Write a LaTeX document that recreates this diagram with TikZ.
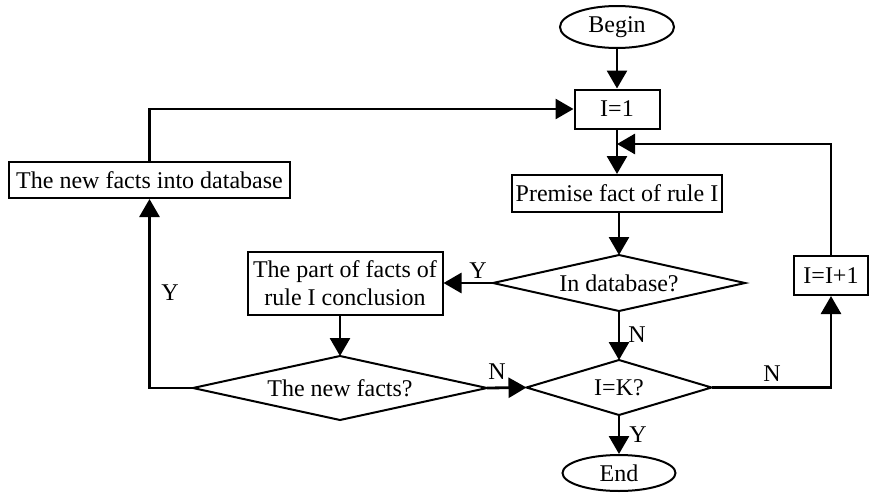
\documentclass[tikz,border=0pt]{standalone}
\usepackage{fontspec}
\setmainfont{Liberation Serif}
\usetikzlibrary{arrows.meta,shapes.geometric}
\begin{document}
\begin{tikzpicture}[x=0.5pt,y=-0.5pt,
  font=\fontsize{12}{14}\selectfont,
  line width=1pt,
  box/.style={draw,rectangle,inner sep=0pt,align=center},
  term/.style={draw,ellipse,inner sep=0pt},
  dia/.style={rectangle,inner sep=0pt},
  arr/.style={-{Triangle[length=9pt,width=10pt]},line width=1.4pt},
  lbl/.style={inner sep=0pt}]
\useasboundingbox (0,0) rectangle (869,493);
% nodes
\node[term,minimum width=57pt,minimum height=21pt] (begin) at (617,27) {Begin};
\node[box,minimum width=42.5pt,minimum height=19.5pt] (i1) at (617,109) {I=1};
\node[box,minimum width=105pt,minimum height=18.5pt] (premise) at (617,193.5) {Premise fact of rule I};
\node[dia,minimum width=125pt,minimum height=27pt] (indb) at (619,283) {In database?};
\node[box,minimum width=97.5pt,minimum height=31.5pt] (part) at (345,283.5) {The part of facts of\\rule I conclusion};
\node[dia,minimum width=146pt,minimum height=31pt] (newf) at (340,388) {The new facts?};
\node[dia,minimum width=91.5pt,minimum height=26.5pt] (ik) at (619,387.5) {I=K?};
\node[box,minimum width=37pt,minimum height=19.5pt] (inc) at (831,275.5) {I=I+1};
\node[box,minimum width=140.5pt,minimum height=18pt] (db) at (149.5,180) {The new facts into database};
\node[term,minimum width=56.5pt,minimum height=18pt] (end) at (619,473) {End};
% diamond outlines
\foreach \d in {indb,newf,ik}
  \draw (\d.north) -- (\d.east) -- (\d.south) -- (\d.west) -- cycle;
% junction coordinate
\coordinate (j) at (617,144);
% connectors
\draw[arr] (begin) -- (i1);
\draw[arr] (i1) -- (premise);
\draw[arr] (premise.south -| indb.north) -- (indb.north);
\draw[arr] (indb.west) -- (part.east |- indb.west);
\draw[arr] (part.south -| newf.north) -- (newf.north);
\draw[arr] (indb.south) -- (ik.north);
\draw[arr] (newf.east) -- (ik.west);
\draw[arr] (newf.west) -| (db.south);
\draw[arr] (db.north) |- (i1.west);
\draw[arr] (ik.east) -| (inc.south);
\draw[arr] (inc.north) |- (j);
\draw[arr] (ik.south) -- (end);
% labels
\node[lbl] (ly1) at (478,271) {Y};
\node[lbl] (ln1) at (637,335) {N};
\node[lbl] (ln2) at (497,372) {N};
\node[lbl] (ly2) at (170,293) {Y};
\node[lbl] (ln3) at (772,374) {N};
\node[lbl] (ly3) at (638,435) {Y};
\end{tikzpicture}
\end{document}
